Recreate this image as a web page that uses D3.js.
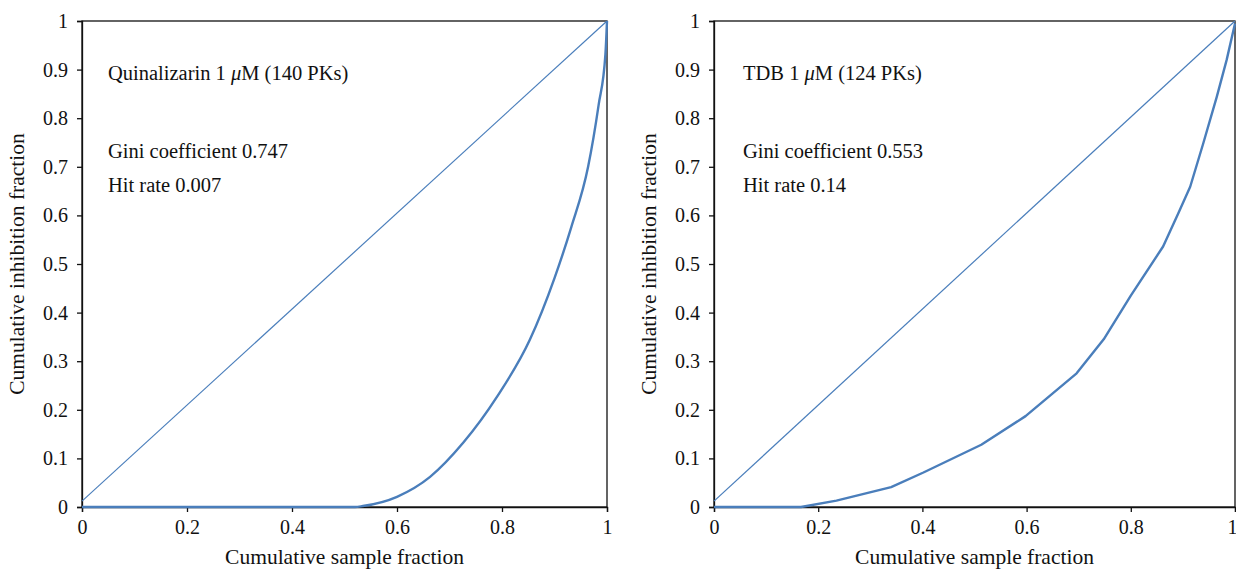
<!DOCTYPE html>
<html>
<head>
<meta charset="utf-8">
<script src="https://cdn.jsdelivr.net/npm/d3@7"></script>
<style>
  body { margin: 0; background: #fff; }
  text { font-family: "Liberation Serif", "DejaVu Serif", serif; fill: #111; }
</style>
</head>
<body>
<div id="chart"></div>
<script>
// tick values
const xTicks = [0, 0.2, 0.4, 0.6, 0.8, 1];
const yTicks = [0, 0.1, 0.2, 0.3, 0.4, 0.5, 0.6, 0.7, 0.8, 0.9, 1];

// equality (diagonal) line
const diagX = [0, 1];
const diagY = [0.012, 1];

// Quinalizarin lorenz curve
const quinX = [0, 0.3, 0.52, 0.535, 0.6, 0.663, 0.726, 0.79, 0.853, 0.9, 0.932, 0.964, 0.984, 0.997, 1];
const quinY = [0, 0, 0, 0.002, 0.021, 0.062, 0.132, 0.226, 0.344, 0.471, 0.576, 0.70, 0.827, 0.932, 1];

// TDB lorenz curve
const tdbX = [0, 0.167, 0.235, 0.34, 0.402, 0.513, 0.598, 0.696, 0.748, 0.8, 0.862, 0.891, 0.914, 0.939, 0.965, 0.984, 1];
const tdbY = [0, 0, 0.013, 0.041, 0.071, 0.128, 0.187, 0.275, 0.345, 0.435, 0.536, 0.604, 0.659, 0.748, 0.844, 0.92, 0.995];

const titles = ["Quinalizarin", "TDB"];
const doses = ["140 PKs", "124 PKs"];
const ginis = ["Gini coefficient 0.747", "Gini coefficient 0.553"];
const hits = ["Hit rate 0.007", "Hit rate 0.14"];

const W = 1236, H = 571;
const blue = "#4a7ebb";

const svg = d3.select("#chart").append("svg")
    .attr("width", W)
    .attr("height", H);

function drawPanel(left, right, xs, ys, curve, i) {
  const x = d3.scaleLinear().domain([0, 1]).range([left, right]);
  const y = d3.scaleLinear().domain([0, 1]).range([507, 21]);
  const g = svg.append("g");

  // frame
  g.append("rect")
      .attr("x", x(0)).attr("y", y(1))
      .attr("width", x(1) - x(0)).attr("height", y(0) - y(1))
      .attr("fill", "none").attr("stroke", "#111").attr("stroke-width", 1.3);

  // axes
  const ax = g.append("g")
      .attr("transform", "translate(0," + y(0) + ")")
      .call(d3.axisBottom(x).tickValues(xTicks).tickSize(5).tickPadding(8).tickFormat(d3.format("")));
  const ay = g.append("g")
      .attr("transform", "translate(" + x(0) + ",0)")
      .call(d3.axisLeft(y).tickValues(yTicks).tickSize(5).tickPadding(9).tickFormat(d3.format("")));
  [ax, ay].forEach(a => {
    a.select(".domain").attr("stroke", "#111").attr("stroke-width", 1.3);
    a.selectAll(".tick line").attr("stroke", "#111").attr("stroke-width", 1.3);
    a.selectAll(".tick text").style("font-size", "20px")
      .style("font-family", "'Liberation Serif', serif").attr("fill", "#111");
  });
  // keep the last x label inside the page
  ax.selectAll(".tick text").filter(d => x(d) > W - 6).attr("text-anchor", "end").attr("dx", W - right + 1);

  // axis titles
  g.append("text")
      .attr("x", (x(0) + x(1)) / 2).attr("y", 564)
      .attr("text-anchor", "middle")
      .style("font-size", "21.5px")
      .text("Cumulative sample fraction");
  g.append("text")
      .attr("transform", "translate(" + (x(0) - 58) + "," + y(0.5) + ") rotate(-90)")
      .attr("text-anchor", "middle")
      .style("font-size", "21.5px")
      .text("Cumulative inhibition fraction");

  // diagonal
  const line = d3.line().x(d => x(d[0])).y(d => y(d[1]));
  g.append("path")
      .attr("d", line(d3.zip(diagX, diagY)))
      .attr("fill", "none").attr("stroke", blue).attr("stroke-width", 1.2);

  // lorenz curve
  g.append("path")
      .attr("d", line.curve(curve)(d3.zip(xs, ys)))
      .attr("fill", "none").attr("stroke", blue).attr("stroke-width", 2.4)
      .attr("stroke-linejoin", "round");

  // annotations
  const tx = x(0) + 26 + 3 * i;
  const t1 = g.append("text").attr("x", tx).attr("y", 80).style("font-size", "20.5px");
  t1.append("tspan").text(titles[i] + " 1 ");
  t1.append("tspan").style("font-style", "italic").text("\u03bc");
  t1.append("tspan").text("M (" + doses[i] + ")");
  g.append("text").attr("x", tx).attr("y", 158).style("font-size", "20.5px").text(ginis[i]);
  g.append("text").attr("x", tx).attr("y", 192).style("font-size", "20.5px").text(hits[i]);
}

drawPanel(82, 607, quinX, quinY, d3.curveMonotoneX, 0);
drawPanel(714, 1235, tdbX, tdbY, d3.curveLinear, 1);
</script>
</body>
</html>
